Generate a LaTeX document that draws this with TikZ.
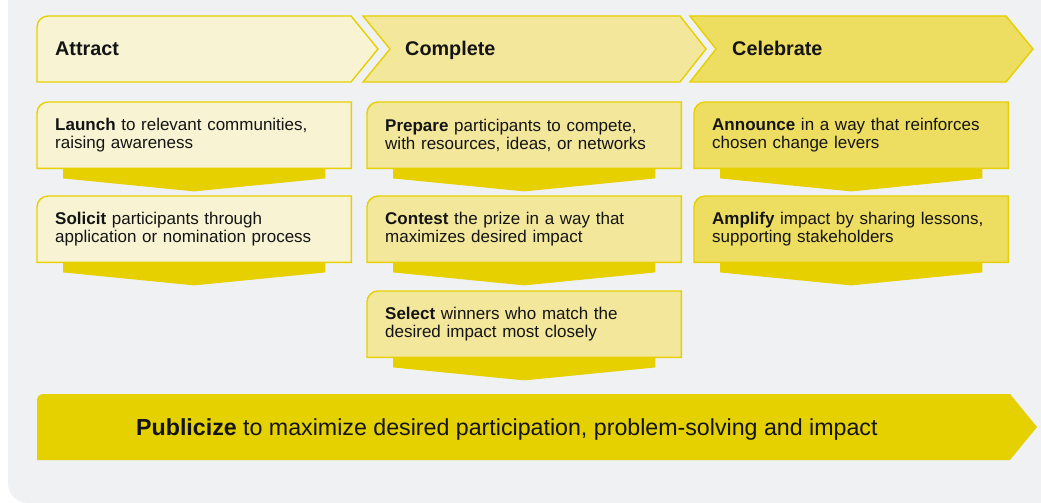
\documentclass[tikz,border=0pt]{standalone}
\usepackage{fontspec}
\setmainfont{Liberation Sans}
\usetikzlibrary{calc,backgrounds}
\definecolor{bgpanel}{RGB}{240,241,243}
\definecolor{yl}{RGB}{230,208,0}
\definecolor{barc}{RGB}{229,208,0}
\definecolor{ca}{RGB}{248,244,211}
\definecolor{cb}{RGB}{243,231,155}
\definecolor{cc}{RGB}{237,221,97}
\definecolor{txt}{RGB}{20,20,20}
\tikzset{
  stepbox/.style={rectangle, anchor=north west, minimum height=66pt, text width=278pt,
    inner xsep=18pt, inner ysep=0pt, align=left, font=\fontsize{17}{18}\selectfont, text=txt},
  edgeline/.style={draw=yl, line width=1.4pt},
  downarrow/.style={fill=yl},
  headtext/.style={anchor=base west, inner sep=0pt, font=\fontsize{19.8}{22}\selectfont\bfseries, text=txt},
  bartext/.style={anchor=base west, inner sep=0pt, font=\fontsize{23.2}{26}\selectfont, text=txt},
}
\newcommand\mybox[5]{%
  \node[stepbox] (#1) at (#2,#3) {#5};
  \begin{scope}[on background layer]
    \filldraw[fill=#4, edgeline] (#1.south west) -- ($(#1.north west)+(0,11)$)
      .. controls ($(#1.north west)+(0,5)$) and ($(#1.north west)+(5,0)$) .. ($(#1.north west)+(11,0)$)
      -- (#1.north east) -- (#1.south east) -- cycle;
  \end{scope}}
\newcommand\myarrow[1]{%
  \fill[downarrow] ($(#1.south west)+(26,0)$) -- ($(#1.south west)+(26,10)$)
    -- ($(#1.south)+(0,23)$) -- ($(#1.south east)+(-26,10)$)
    -- ($(#1.south east)+(-26,0)$) -- cycle;}
\begin{document}
\begin{tikzpicture}[x=1pt,y=-1pt]
\useasboundingbox (0,0) rectangle (1041,503);
\begin{scope}[on background layer]
  \fill[white] (0,0) rectangle (1041,503);
  \fill[bgpanel, rounded corners=20pt] (8,-40) rectangle (1080,503);
  % headers
  \filldraw[fill=ca, edgeline] (37,82) -- (37,27) .. controls (37,21) and (42,16) .. (48,16)
    -- (351,16) -- (378,49) -- (351,82) -- cycle;
  \filldraw[fill=cb, edgeline] (363,16) -- (680,16) -- (706,49) -- (680,82) -- (363,82) -- (390,49) -- cycle;
  \filldraw[fill=cc, edgeline] (690,16) -- (1006,16) -- (1033,49) -- (1006,82) -- (690,82) -- (716,49) -- cycle;
  % bottom bar
  \fill[barc] (37,460) -- (37,401) .. controls (37,397) and (39,394) .. (44,394) -- (1010,394) -- (1037,427) -- (1010,460) -- cycle;
\end{scope}
\node[headtext] (h1) at (55,56) {Attract};
\node[headtext] (h2) at (405,56) {Complete};
\node[headtext] (h3) at (732,56) {Celebrate};

\mybox{a1}{37}{102}{ca}{\textbf{Launch} to relevant communities,\\ raising awareness}
\mybox{a2}{37}{196}{ca}{\textbf{Solicit} participants through\\ application or nomination process}
\mybox{b1}{367}{102}{cb}{\textbf{Prepare} participants to compete,\\ with resources, ideas, or networks}
\mybox{b2}{367}{196}{cb}{\textbf{Contest} the prize in a way that\\ maximizes desired impact}
\mybox{b3}{367}{291}{cb}{\textbf{Select} winners who match the\\ desired impact most closely}
\mybox{c1}{694}{102}{cc}{\textbf{Announce} in a way that reinforces\\ chosen change levers}
\mybox{c2}{694}{196}{cc}{\textbf{Amplify} impact by sharing lessons,\\ supporting stakeholders}

\myarrow{a1}\myarrow{a2}
\myarrow{b1}\myarrow{b2}\myarrow{b3}
\myarrow{c1}\myarrow{c2}

\node[bartext] (pub) at (136,435) {\textbf{Publicize} to maximize desired participation, problem-solving and impact};
\end{tikzpicture}
\end{document}
